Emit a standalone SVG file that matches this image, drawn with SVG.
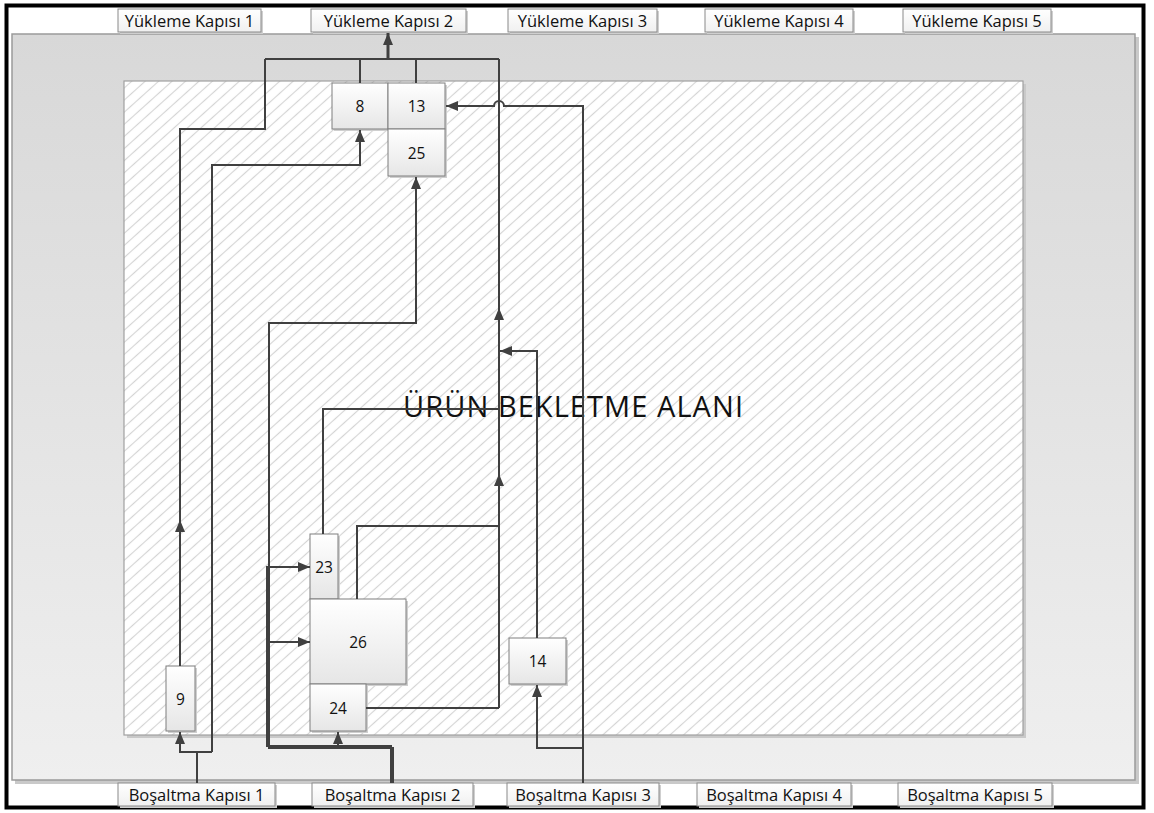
<svg xmlns="http://www.w3.org/2000/svg" width="1154" height="813" viewBox="0 0 1154 813">
  <defs>
    <linearGradient id="areaGrad" x1="0" y1="0" x2="0" y2="1">
      <stop offset="0" stop-color="#d8d8d8"/>
      <stop offset="1" stop-color="#efefef"/>
    </linearGradient>
    <linearGradient id="boxGrad" x1="0" y1="0" x2="0" y2="1">
      <stop offset="0" stop-color="#ffffff"/>
      <stop offset="1" stop-color="#e6e6e6"/>
    </linearGradient>
    <linearGradient id="lblGrad" x1="0" y1="0" x2="0" y2="1">
      <stop offset="0" stop-color="#ffffff"/>
      <stop offset="1" stop-color="#f0f0f0"/>
    </linearGradient>
    <pattern id="hatch" width="9" height="9" patternUnits="userSpaceOnUse" patternTransform="rotate(-42)">
      <rect width="9" height="9" fill="#ffffff"/>
      <line x1="0" y1="4.5" x2="9" y2="4.5" stroke="#d4d4d4" stroke-width="1.1"/>
    </pattern>
    <marker id="arr" viewBox="0 0 12 10" refX="12" refY="5" markerWidth="12" markerHeight="10" markerUnits="userSpaceOnUse" orient="auto">
      <path d="M0,0 L12,5 L0,10 z" fill="#404040"/>
    </marker>
  </defs>
  <style>
    .frame { fill: #ffffff; stroke: #000000; stroke-width: 4; }
    .area { fill: url(#areaGrad); stroke: #9a9a9a; stroke-width: 1.5; }
    .shadow { fill: #c9c9c9; }
    .hatch { fill: url(#hatch); stroke: #a0a0a0; stroke-width: 1.2; }
    .box { fill: url(#boxGrad); stroke: #7f7f7f; stroke-width: 1; }
    .lbl { fill: url(#lblGrad); stroke: #8a8a8a; stroke-width: 1; }
    .bshadow { fill: #cfcfcf; }
    .t { font-family: "Open Sans", "Noto Sans", "Liberation Sans", sans-serif; fill: #111111; text-anchor: middle; }
    .gate { font-size: 16.5px; }
    .num { font-size: 15.5px; }
    .title { font-size: 29px; fill: #111111; }
    .conn { fill: none; stroke: #404040; stroke-width: 2; }
    .thick { stroke-width: 3; }
  </style>

  <!-- background frame -->
  <rect class="frame" x="6.5" y="5.5" width="1137" height="802"/>

  <!-- gray yard area -->
  <rect class="shadow" x="15" y="37" width="1124" height="747"/>
  <rect class="area" x="12" y="34" width="1123" height="746"/>

  <!-- hatched waiting area -->
  <rect class="shadow" x="127" y="84" width="899" height="654"/>
  <rect class="hatch" x="124" y="81" width="899" height="654"/>
  <text class="t title" x="573" y="417" textLength="340" lengthAdjust="spacing">ÜRÜN BEKLETME ALANI</text>

  <!-- loading gates -->
  <g id="yukleme1">
    <rect class="bshadow" x="120" y="11" width="143" height="23"/>
    <rect class="lbl" x="118" y="9" width="143" height="23"/>
    <text class="t gate" x="189.5" y="26.5">Yükleme Kapısı 1</text>
  </g>
  <g id="yukleme2">
    <rect class="bshadow" x="313" y="11" width="155" height="23"/>
    <rect class="lbl" x="311" y="9" width="155" height="23"/>
    <text class="t gate" x="388.5" y="26.5">Yükleme Kapısı 2</text>
  </g>
  <g id="yukleme3">
    <rect class="bshadow" x="510" y="11" width="149" height="23"/>
    <rect class="lbl" x="508" y="9" width="149" height="23"/>
    <text class="t gate" x="582.5" y="26.5">Yükleme Kapısı 3</text>
  </g>
  <g id="yukleme4">
    <rect class="bshadow" x="707" y="11" width="148" height="23"/>
    <rect class="lbl" x="705" y="9" width="148" height="23"/>
    <text class="t gate" x="779" y="26.5">Yükleme Kapısı 4</text>
  </g>
  <g id="yukleme5">
    <rect class="bshadow" x="905" y="11" width="148" height="23"/>
    <rect class="lbl" x="903" y="9" width="148" height="23"/>
    <text class="t gate" x="977" y="26.5">Yükleme Kapısı 5</text>
  </g>

  <!-- unloading gates -->
  <g id="bosaltma1">
    <rect class="bshadow" x="120" y="785" width="157" height="23"/>
    <rect class="lbl" x="118" y="783" width="157" height="23"/>
    <text class="t gate" x="196.5" y="800.5">Boşaltma Kapısı 1</text>
  </g>
  <g id="bosaltma2">
    <rect class="bshadow" x="314" y="785" width="161" height="23"/>
    <rect class="lbl" x="312" y="783" width="161" height="23"/>
    <text class="t gate" x="392.5" y="800.5">Boşaltma Kapısı 2</text>
  </g>
  <g id="bosaltma3">
    <rect class="bshadow" x="509" y="785" width="152" height="23"/>
    <rect class="lbl" x="507" y="783" width="152" height="23"/>
    <text class="t gate" x="583" y="800.5">Boşaltma Kapısı 3</text>
  </g>
  <g id="bosaltma4">
    <rect class="bshadow" x="699" y="785" width="154" height="23"/>
    <rect class="lbl" x="697" y="783" width="154" height="23"/>
    <text class="t gate" x="774" y="800.5">Boşaltma Kapısı 4</text>
  </g>
  <g id="bosaltma5">
    <rect class="bshadow" x="900" y="785" width="154" height="23"/>
    <rect class="lbl" x="898" y="783" width="154" height="23"/>
    <text class="t gate" x="975" y="800.5">Boşaltma Kapısı 5</text>
  </g>

  <!-- product nodes -->
  <g id="n8">
    <rect class="bshadow" x="334" y="85" width="56" height="46"/>
    <rect class="box" x="332" y="83" width="56" height="46"/>
    <text class="t num" x="360" y="111.5">8</text>
  </g>
  <g id="n13">
    <rect class="bshadow" x="390" y="85" width="57" height="46"/>
    <rect class="box" x="388" y="83" width="57" height="46"/>
    <text class="t num" x="416.5" y="111.5">13</text>
  </g>
  <g id="n25">
    <rect class="bshadow" x="390" y="131" width="57" height="47"/>
    <rect class="box" x="388" y="129" width="57" height="47"/>
    <text class="t num" x="416.5" y="158.5">25</text>
  </g>
  <g id="n9">
    <rect class="bshadow" x="168" y="668" width="29" height="65"/>
    <rect class="box" x="166" y="666" width="29" height="65"/>
    <text class="t num" x="180.5" y="704.5">9</text>
  </g>
  <g id="n23">
    <rect class="bshadow" x="312" y="536" width="28" height="65"/>
    <rect class="box" x="310" y="534" width="28" height="65"/>
    <text class="t num" x="324" y="572.5">23</text>
  </g>
  <g id="n26">
    <rect class="bshadow" x="312" y="601" width="96" height="85"/>
    <rect class="box" x="310" y="599" width="96" height="85"/>
    <text class="t num" x="358" y="647.5">26</text>
  </g>
  <g id="n24">
    <rect class="bshadow" x="312" y="686" width="56" height="47"/>
    <rect class="box" x="310" y="684" width="56" height="47"/>
    <text class="t num" x="338" y="713.5">24</text>
  </g>
  <g id="n14">
    <rect class="bshadow" x="511" y="640" width="57" height="46"/>
    <rect class="box" x="509" y="638" width="57" height="46"/>
    <text class="t num" x="537.5" y="666.5">14</text>
  </g>

  <!-- connectors -->
  <g id="connectors">
    <!-- collector to Yükleme Kapısı 2 -->
    <path class="conn thick" d="M388,60 V33" marker-end="url(#arr)"/>
    <path class="conn" d="M265,59 H499"/>
    <path class="conn" d="M360,83 V59"/>
    <path class="conn" d="M416,83 V59"/>
    <!-- 9 up to collector -->
    <path class="conn" d="M180,666 V129 H265 V59"/>
    <path class="conn" d="M180,540 V520" marker-end="url(#arr)"/>
    <!-- right riser -->
    <path class="conn" d="M499,708 V59"/>
    <path class="conn" d="M499,330 V308" marker-end="url(#arr)"/>
    <path class="conn" d="M499,495 V474" marker-end="url(#arr)"/>
    <path class="conn" d="M366,708 H499"/>
    <path class="conn" d="M357,599 V526 H499"/>
    <path class="conn" d="M323,534 V409 H499"/>
    <!-- 14 to riser -->
    <path class="conn" d="M537,638 V351 H500" marker-end="url(#arr)"/>
    <!-- Boşaltma 3 -->
    <path class="conn" d="M583,783 V106 H504 A5,5 0 0 0 494,106 H446" marker-end="url(#arr)"/>
    <path class="conn" d="M583,748 H537 V685" marker-end="url(#arr)"/>
    <!-- Boşaltma 1 -->
    <path class="conn" d="M197,783 V752"/>
    <path class="conn" d="M212,752 H180 V732" marker-end="url(#arr)"/>
    <path class="conn" d="M212,752 V165 H360 V130" marker-end="url(#arr)"/>
    <!-- Boşaltma 2 -->
    <path class="conn" d="M393,783 V748 H269 V323 H416 V177" marker-end="url(#arr)"/>
    <path class="conn" d="M391,783 V746 H267 V567 H310" marker-end="url(#arr)"/>
    <path class="conn" d="M269,642 H310" marker-end="url(#arr)"/>
    <path class="conn" d="M338,748 V732" marker-end="url(#arr)"/>
  </g>
</svg>
